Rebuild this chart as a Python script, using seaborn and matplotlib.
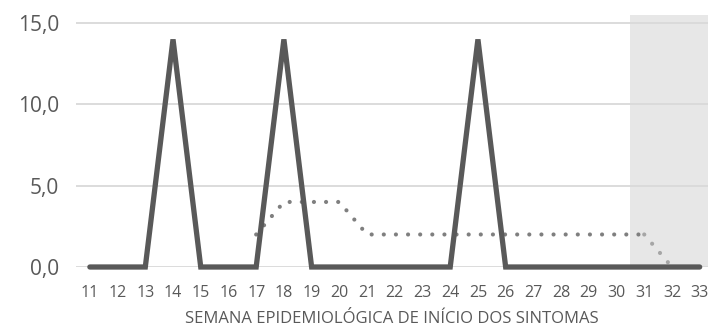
import matplotlib
matplotlib.use("Agg")
import matplotlib.pyplot as plt
import seaborn as sns
import pandas as pd
import numpy as np
from matplotlib.ticker import FuncFormatter

weeks = list(range(11, 34))
casos = [0, 0, 0, 14, 0, 0, 0, 14, 0, 0, 0, 0, 0, 0, 14, 0, 0, 0, 0, 0, 0, 0, 0]
media_weeks = list(range(17, 34))
media = [2, 4, 4, 4, 2, 2, 2, 2, 2, 2, 2, 2, 2, 2, 2, 0, 0]
shade_start = 30.5
xlabel = "SEMANA EPIDEMIOLÓGICA DE INÍCIO DOS SINTOMAS"
yticks = [0, 5, 10, 15]

sns.set_theme(style="white")
plt.rcParams['font.family'] = ['Open Sans', 'DejaVu Sans']

df_c = pd.DataFrame({"semana": weeks, "casos": casos})
df_m = pd.DataFrame({"semana": media_weeks, "media": media})
df_m1 = df_m[df_m["semana"] <= 31]
df_m2 = df_m[df_m["semana"] >= 31]

fig = plt.figure(figsize=(7.08, 3.29), dpi=100)
ax = fig.add_axes([76/708, 1 - 267/329, 1 - 76/708, (267 - 15)/329])

ax.axvspan(shade_start, 40, color="#e7e7e7", zorder=0, lw=0)
for y in yticks:
    ax.axhline(y, color="#d9d9d9", lw=1.3, zorder=1)

dot = (0, (0.01, 2.9))
sns.lineplot(data=df_m1, x="semana", y="media", ax=ax, color="#7f7f7f",
             lw=3, zorder=2, clip_on=False)
sns.lineplot(data=df_m2, x="semana", y="media", ax=ax, color="#a6a6a6",
             lw=3, zorder=2, clip_on=False)
for ln in ax.lines[-2:]:
    ln.set_linestyle(dot)
    ln.set_dash_capstyle("round")
sns.lineplot(data=df_c, x="semana", y="casos", ax=ax, color="#595959",
             lw=3.8, zorder=3, clip_on=False)
ax.lines[-1].set_solid_capstyle("round")
ax.lines[-1].set_solid_joinstyle("miter")

ax.set_xlim(10.5, 33.3)
ax.set_ylim(0, 15.5)
ax.set_xticks(weeks)
ax.set_xticklabels([str(w) for w in weeks], fontsize=11.5, color="#595959")
ax.set_yticks(yticks)
ax.yaxis.set_major_formatter(FuncFormatter(lambda v, p: f"{v:.1f}".replace(".", ",")))
ax.tick_params(axis="y", labelsize=15, colors="#595959", length=0, pad=12)
ax.tick_params(axis="x", length=0, pad=13)
ax.set_xlabel(xlabel, fontsize=12, color="#595959", labelpad=7)
ax.set_ylabel("")
for s in ax.spines.values():
    s.set_visible(False)
ax.grid(False)

fig.savefig("out.png", dpi=100)
